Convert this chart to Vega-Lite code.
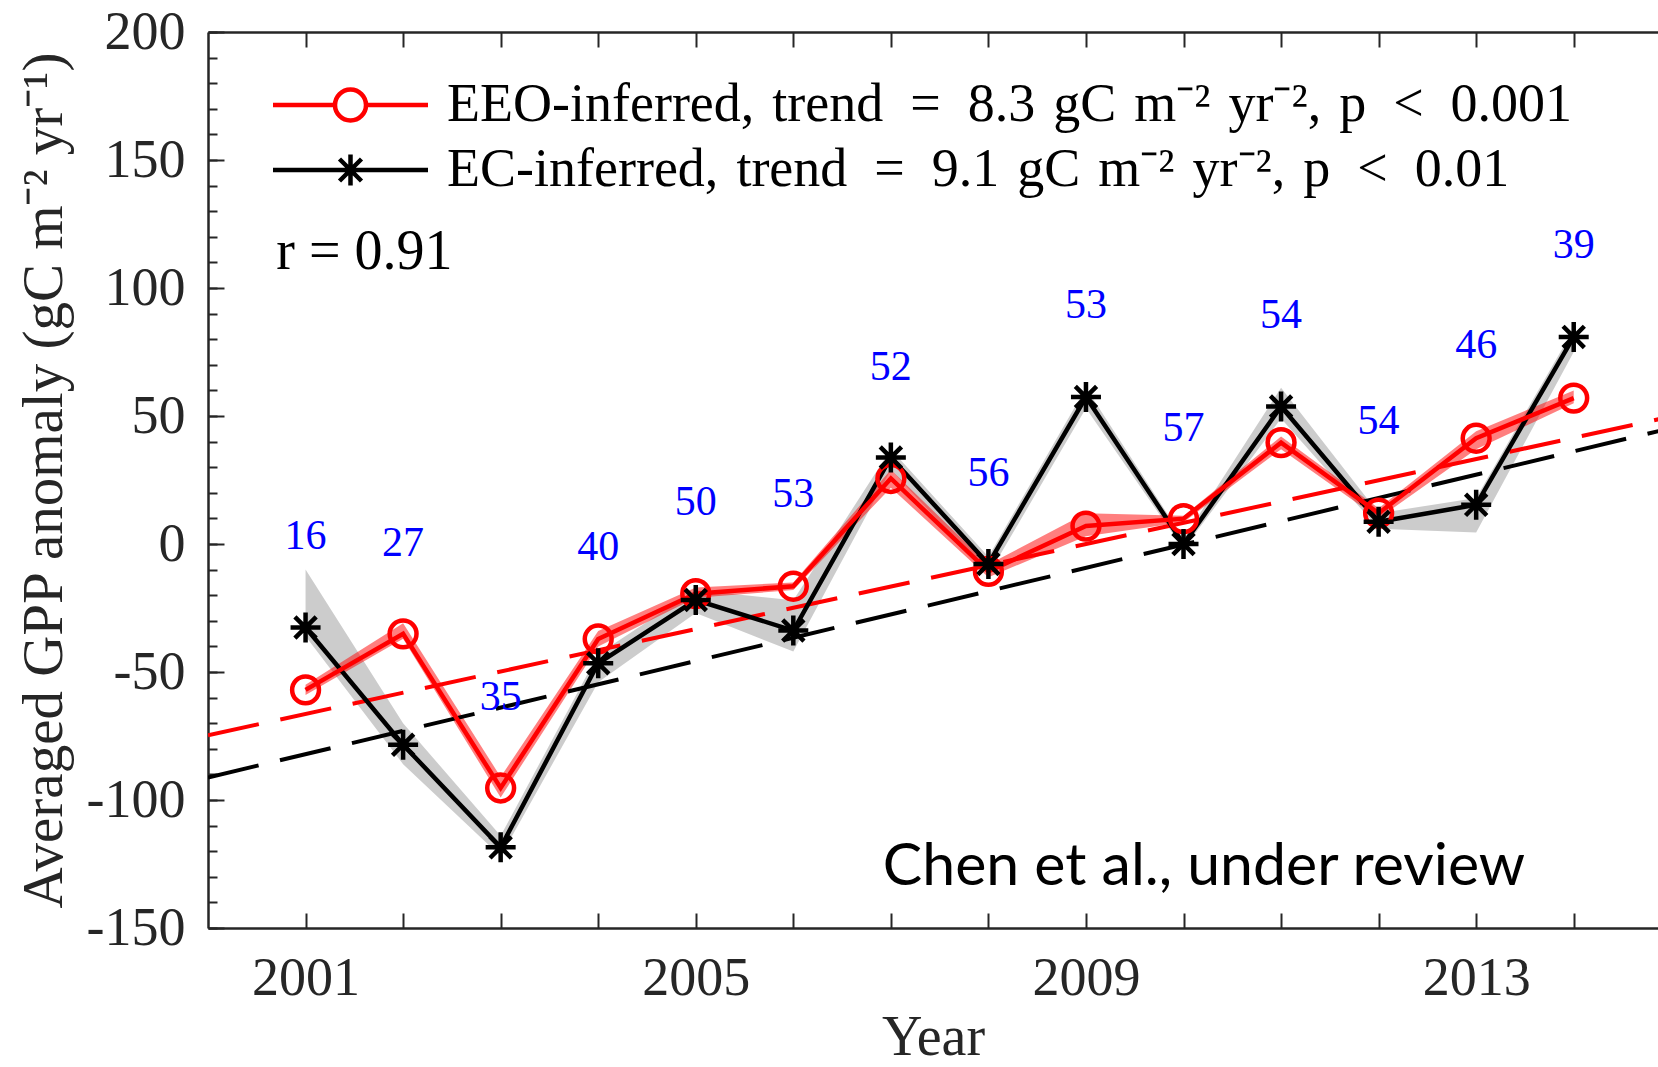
{
  "$schema": "https://vega.github.io/schema/vega-lite/v6.json",
  "width": 1450,
  "height": 896,
  "autosize": {"type": "none"},
  "padding": {"left": 208, "top": 32, "right": 0, "bottom": 139},
  "background": "white",
  "config": {"view": {"stroke": null}, "font": "Liberation Serif"},
  "data": {"values": [
    {"year": 2001, "eeo": -57.0, "eeo_lo": -59, "eeo_hi": -55, "ec": -32.6, "ec_lo": -36, "ec_hi": -10, "n": "16", "n_y": 3.3},
    {"year": 2002, "eeo": -35.1, "eeo_lo": -37, "eeo_hi": -31, "ec": -78.4, "ec_lo": -86, "ec_hi": -70, "n": "27", "n_y": 0.4},
    {"year": 2003, "eeo": -95.3, "eeo_lo": -99, "eeo_hi": -91, "ec": -118.5, "ec_lo": -122, "ec_hi": -114, "n": "35", "n_y": -59.8},
    {"year": 2004, "eeo": -37.1, "eeo_lo": -40, "eeo_hi": -34, "ec": -46.6, "ec_lo": -54, "ec_hi": -43, "n": "40", "n_y": -1.2},
    {"year": 2005, "eeo": -19.4, "eeo_lo": -21, "eeo_hi": -17, "ec": -21.9, "ec_lo": -27, "ec_hi": -18, "n": "50", "n_y": 16.5},
    {"year": 2006, "eeo": -16.5, "eeo_lo": -18, "eeo_hi": -15, "ec": -33.8, "ec_lo": -42, "ec_hi": -22, "n": "53", "n_y": 19.4},
    {"year": 2007, "eeo": 25.6, "eeo_lo": 22, "eeo_hi": 29, "ec": 33.8, "ec_lo": 29, "ec_hi": 37, "n": "52", "n_y": 69.3},
    {"year": 2008, "eeo": -10.7, "eeo_lo": -13, "eeo_hi": -8, "ec": -7.8, "ec_lo": -12, "ec_hi": -5, "n": "56", "n_y": 27.7},
    {"year": 2009, "eeo": 7.0, "eeo_lo": 3, "eeo_hi": 12, "ec": 57.4, "ec_lo": 53, "ec_hi": 61, "n": "53", "n_y": 93.3},
    {"year": 2010, "eeo": 9.9, "eeo_lo": 8.5, "eeo_hi": 11, "ec": 0, "ec_lo": -2, "ec_hi": 2, "n": "57", "n_y": 45.4},
    {"year": 2011, "eeo": 39.6, "eeo_lo": 37, "eeo_hi": 42, "ec": 53.7, "ec_lo": 49, "ec_hi": 61, "n": "54", "n_y": 89.6},
    {"year": 2012, "eeo": 12.0, "eeo_lo": 10, "eeo_hi": 14, "ec": 8.7, "ec_lo": 6, "ec_hi": 12, "n": "54", "n_y": 47.9},
    {"year": 2013, "eeo": 41.3, "eeo_lo": 37, "eeo_hi": 44, "ec": 15.3, "ec_lo": 4.5, "ec_hi": 18, "n": "46", "n_y": 77.6},
    {"year": 2014, "eeo": 57.0, "eeo_lo": 55, "eeo_hi": 60, "ec": 80.9, "ec_lo": 75, "ec_hi": 84, "n": "39", "n_y": 116.8}
  ]},
  "datasets": {
    "trend": [
      {"series": "EEO", "year": 2000, "value": -74.7},
      {"series": "EEO", "year": 2015, "value": 49.8},
      {"series": "EC", "year": 2000, "value": -91.2},
      {"series": "EC", "year": 2015, "value": 45.3}
    ],
    "notes": [
      {"x": 2000.7, "y": 113.9, "label": "r = 0.91"}
    ],
    "stamp": [
      {"x": 2010.21, "y": -126.3, "label": "Chen et al., under review"}
    ],
    "legend": [
      {"series": "EEO-inferred,\u2004trend\u2002=\u20028.3\u2004gC\u2004m⁻²\u2004yr⁻²,\u2004p\u2002<\u20020.001", "year": 2005, "value": 500},
      {"series": "EC-inferred,\u2004trend\u2002=\u20029.1\u2004gC\u2004m⁻²\u2004yr⁻²,\u2004p\u2002<\u20020.01", "year": 2006, "value": 500}
    ]
  },
  "layer": [
    {
      "mark": {"type": "area", "color": "#000000", "opacity": 0.2},
      "encoding": {
        "x": {"field": "year", "type": "quantitative",
          "scale": {"domain": [2000, 2014.864], "nice": false, "zero": false},
          "axis": {
            "orient": "bottom",
            "values": [2001, 2002, 2003, 2004, 2005, 2006, 2007, 2008, 2009, 2010, 2011, 2012, 2013, 2014],
            "labelExpr": "(datum.value - 2001) % 4 === 0 ? '' + datum.value : ''",
            "labelOverlap": false, "labelFlush": false,
            "tickSize": -15, "tickWidth": 2, "tickColor": "#262626",
            "domainColor": "#262626", "domainWidth": 2.5,
            "labelFont": "Liberation Serif", "labelFontSize": 54, "labelColor": "#262626",
            "labelBaseline": "top", "labelPadding": 38,
            "grid": false,
            "title": "Year", "titleFont": "Liberation Serif", "titleFontSize": 56, "titleFontWeight": "normal",
            "titleColor": "#262626", "titleY": 126, "titleBaseline": "alphabetic"
          }},
        "y": {"field": "ec_lo", "type": "quantitative",
          "scale": {"domain": [-150, 200], "nice": false, "zero": false},
          "axis": {
            "values": [-150, -100, -50, 0, 50, 100, 150, 200],
            "labelExpr": "'' + datum.value",
            "labelOverlap": false, "labelFlush": false,
            "tickSize": -16,
            "tickWidth": 2, "tickColor": "#262626",
            "domainColor": "#262626", "domainWidth": 2.5,
            "labelFont": "Liberation Serif", "labelFontSize": 54, "labelColor": "#262626",
            "labelAlign": "right", "labelBaseline": "middle", "labelPadding": 39,
            "grid": false,
            "title": "Averaged GPP anomaly (gC m⁻² yr⁻¹)", "titleFont": "Liberation Serif", "titleFontSize": 57,
            "titleFontWeight": "normal", "titleColor": "#262626",
            "titleX": -164, "titleY": 448, "titleAngle": -90, "titleAlign": "center", "titleBaseline": "middle"
          }},
        "y2": {"field": "ec_hi"}
      }
    },
    {
      "mark": {"type": "area", "color": "#ff0000", "opacity": 0.5},
      "encoding": {
        "x": {"field": "year", "type": "quantitative",
          "scale": {"domain": [2000, 2014.864], "nice": false, "zero": false},
          "axis": {
            "orient": "top",
            "values": [2001, 2002, 2003, 2004, 2005, 2006, 2007, 2008, 2009, 2010, 2011, 2012, 2013, 2014],
            "labels": false, "tickSize": -15, "tickWidth": 2, "tickColor": "#262626",
            "domainColor": "#262626", "domainWidth": 2.5, "grid": false, "title": null
          }},
        "y": {"field": "eeo_lo", "type": "quantitative",
          "scale": {"domain": [-150, 200], "nice": false, "zero": false},
          "axis": {
            "orient": "left",
            "values": [-150, -140, -130, -120, -110, -100, -90, -80, -70, -60, -50, -40, -30, -20, -10, 0, 10, 20, 30, 40, 50, 60, 70, 80, 90, 100, 110, 120, 130, 140, 150, 160, 170, 180, 190, 200],
            "labels": false, "domain": false, "tickSize": -9, "tickWidth": 2, "tickColor": "#262626",
            "grid": false, "title": null
          }},
        "y2": {"field": "eeo_hi"}
      }
    },
    {
      "data": {"name": "trend"},
      "transform": [{"filter": "datum.series === 'EEO'"}],
      "mark": {"type": "line", "color": "#ff0000", "strokeWidth": 4, "strokeDash": [52, 22], "clip": true},
      "encoding": {
        "x": {"field": "year", "type": "quantitative", "scale": {"domain": [2000, 2014.864], "nice": false, "zero": false}, "axis": null},
        "y": {"field": "value", "type": "quantitative", "axis": null}
      }
    },
    {
      "data": {"name": "trend"},
      "transform": [{"filter": "datum.series === 'EC'"}],
      "mark": {"type": "line", "color": "#000000", "strokeWidth": 4, "strokeDash": [52, 22], "clip": true},
      "encoding": {
        "x": {"field": "year", "type": "quantitative", "scale": {"domain": [2000, 2014.864], "nice": false, "zero": false}, "axis": null},
        "y": {"field": "value", "type": "quantitative", "axis": null}
      }
    },
    {
      "mark": {"type": "line", "color": "#000000", "strokeWidth": 4.5},
      "encoding": {
        "x": {"field": "year", "type": "quantitative", "scale": {"domain": [2000, 2014.864], "nice": false, "zero": false}, "axis": null},
        "y": {"field": "ec", "type": "quantitative", "axis": null}
      }
    },
    {
      "mark": {"type": "line", "color": "#ff0000", "strokeWidth": 4.5},
      "encoding": {
        "x": {"field": "year", "type": "quantitative", "scale": {"domain": [2000, 2014.864], "nice": false, "zero": false}, "axis": null},
        "y": {"field": "eeo", "type": "quantitative", "axis": null}
      }
    },
    {
      "mark": {"type": "point", "shape": "circle", "filled": false, "color": "#ff0000", "strokeWidth": 4.5, "size": 720, "opacity": 1},
      "encoding": {
        "x": {"field": "year", "type": "quantitative", "scale": {"domain": [2000, 2014.864], "nice": false, "zero": false}, "axis": null},
        "y": {"field": "eeo", "type": "quantitative", "axis": null}
      }
    },
    {
      "mark": {"type": "point", "shape": "M-1,0L1,0M0,-1L0,1M-0.71,-0.71L0.71,0.71M-0.71,0.71L0.71,-0.71", "filled": false, "color": "#000000", "strokeWidth": 4.5, "size": 900, "opacity": 1},
      "encoding": {
        "x": {"field": "year", "type": "quantitative", "scale": {"domain": [2000, 2014.864], "nice": false, "zero": false}, "axis": null},
        "y": {"field": "ec", "type": "quantitative", "axis": null}
      }
    },
    {
      "mark": {"type": "text", "color": "#0000ff", "font": "Liberation Serif", "fontSize": 42, "align": "center", "baseline": "middle"},
      "encoding": {
        "x": {"field": "year", "type": "quantitative", "scale": {"domain": [2000, 2014.864], "nice": false, "zero": false}, "axis": null},
        "y": {"field": "n_y", "type": "quantitative", "axis": null},
        "text": {"field": "n"}
      }
    },
    {
      "data": {"name": "notes"},
      "mark": {"type": "text", "color": "#000000", "font": "Liberation Serif", "fontSize": 56, "align": "left", "baseline": "middle"},
      "encoding": {
        "x": {"field": "x", "type": "quantitative", "scale": {"domain": [2000, 2014.864], "nice": false, "zero": false}, "axis": null},
        "y": {"field": "y", "type": "quantitative", "axis": null},
        "text": {"field": "label"}
      }
    },
    {
      "data": {"name": "stamp"},
      "mark": {"type": "text", "color": "#000000", "font": "Lato", "fontSize": 59, "align": "center", "baseline": "middle"},
      "encoding": {
        "x": {"field": "x", "type": "quantitative", "scale": {"domain": [2000, 2014.864], "nice": false, "zero": false}, "axis": null},
        "y": {"field": "y", "type": "quantitative", "axis": null},
        "text": {"field": "label"}
      }
    },
    {
      "data": {"name": "legend"},
      "mark": {"type": "point", "filled": false, "strokeWidth": 4.5, "opacity": 1, "clip": true},
      "encoding": {
        "x": {"field": "year", "type": "quantitative", "scale": {"domain": [2000, 2014.864], "nice": false, "zero": false}, "axis": null},
        "y": {"field": "value", "type": "quantitative", "axis": null},
        "color": {"field": "series", "type": "nominal",
          "scale": {"domain": ["EEO-inferred,\u2004trend\u2002=\u20028.3\u2004gC\u2004m⁻²\u2004yr⁻²,\u2004p\u2002<\u20020.001", "EC-inferred,\u2004trend\u2002=\u20029.1\u2004gC\u2004m⁻²\u2004yr⁻²,\u2004p\u2002<\u20020.01"], "range": ["#ff0000", "#000000"]},
          "legend": {"title": null, "orient": "none", "legendX": 115.5, "legendY": 46, "direction": "vertical",
            "symbolSize": 961, "symbolStrokeWidth": 4.5, "symbolOpacity": 1, "labelFont": "Liberation Serif", "labelFontSize": 54,
            "labelColor": "#000000", "labelOffset": 69.5, "labelLimit": 3000, "rowPadding": 11, "padding": 0}},
        "shape": {"field": "series", "type": "nominal",
          "scale": {"domain": ["EEO-inferred,\u2004trend\u2002=\u20028.3\u2004gC\u2004m⁻²\u2004yr⁻²,\u2004p\u2002<\u20020.001", "EC-inferred,\u2004trend\u2002=\u20029.1\u2004gC\u2004m⁻²\u2004yr⁻²,\u2004p\u2002<\u20020.01"],
            "range": ["M-5,0L-1,0M1,0L5,0M-1,0A1,1 0 1,0 1,0A1,1 0 1,0 -1,0", "M-5,0L5,0M0,-1L0,1M-0.71,-0.71L0.71,0.71M-0.71,0.71L0.71,-0.71"]},
          "legend": {"title": null, "orient": "none", "legendX": 115.5, "legendY": 46, "direction": "vertical",
            "symbolSize": 961, "symbolStrokeWidth": 4.5, "symbolOpacity": 1, "labelFont": "Liberation Serif", "labelFontSize": 54,
            "labelColor": "#000000", "labelOffset": 69.5, "labelLimit": 3000, "rowPadding": 11, "padding": 0}}
      }
    }
  ],
  "resolve": {"axis": {"x": "independent", "y": "independent"}}
}
